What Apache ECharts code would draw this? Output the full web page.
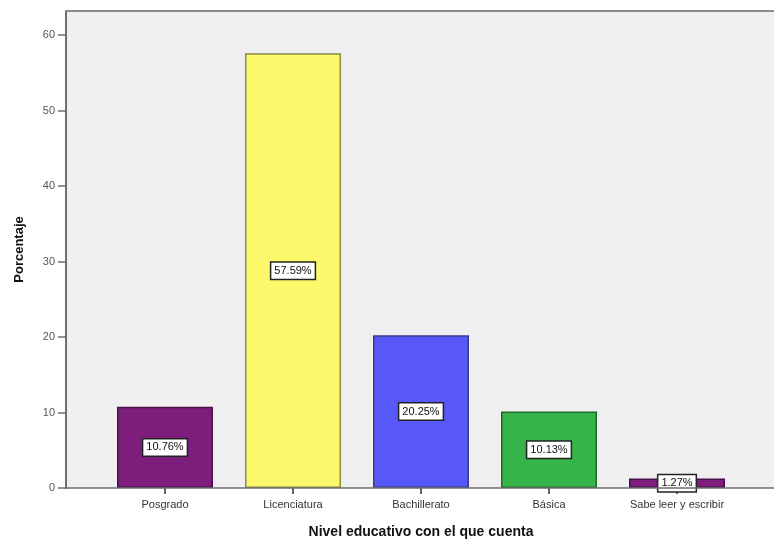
<!DOCTYPE html>
<html>
<head>
<meta charset="utf-8">
<script src="https://cdn.jsdelivr.net/npm/echarts@6/dist/echarts.min.js"></script>
<style>html,body{margin:0;padding:0;background:#fff;overflow:hidden;}#c{width:774px;height:540px;}</style>
</head>
<body>
<div id="c"></div>
<script>
const categories = ['Posgrado', 'Licenciatura', 'Bachillerato', 'Básica', 'Sabe leer y escribir'];
const values = [10.76, 57.59, 20.25, 10.13, 1.27];
const barColors = ['#7d1e7d', '#fbf86c', '#5858f8', '#35b549', '#7d1e7d'];
const barBorders = ['#4a1048', '#8a8a4a', '#3a3a8a', '#1f6a2a', '#4a1048'];
const yTicks = [0, 10, 20, 30, 40, 50, 60];

const chart = echarts.init(document.getElementById('c'), null, {renderer: 'canvas', width: 774, height: 540});
const option = {
  backgroundColor: '#ffffff',
  animation: false,
  graphic: [
    {type: 'rect', z: -10, shape: {x: 66, y: 11, width: 710, height: 477}, style: {fill: '#efefef'}},
    {type: 'line', z: 10, shape: {x1: 65, y1: 11, x2: 774, y2: 11}, style: {stroke: '#8c8c8c', lineWidth: 2}},
    {type: 'line', z: 10, shape: {x1: 66, y1: 488, x2: 774, y2: 488}, style: {stroke: '#6e6e6e', lineWidth: 1.5}}
  ],
  grid: {left: 101, width: 640, top: 11, height: 477, containLabel: false, outerBoundsMode: 'none'},
  xAxis: {
    type: 'category',
    data: categories,
    name: 'Nivel educativo con el que cuenta',
    nameLocation: 'middle',
    nameGap: 37,
    nameTextStyle: {fontFamily: 'Liberation Sans', fontWeight: 'bold', fontSize: 14, color: '#111'},
    axisLine: {show: false},
    axisTick: {show: true, alignWithLabel: true, length: 6, lineStyle: {color: '#333', width: 1.5}},
    axisLabel: {fontFamily: 'Liberation Sans', fontSize: 11, color: '#333', margin: 11},
    splitLine: {show: false}
  },
  yAxis: {
    type: 'value',
    min: 0,
    max: 63.2,
    interval: 10,
    offset: 35,
    name: 'Porcentaje',
    nameLocation: 'middle',
    nameGap: 40,
    nameRotate: 90,
    nameTextStyle: {fontFamily: 'Liberation Sans', fontWeight: 'bold', fontSize: 13, color: '#111'},
    axisLine: {show: true, lineStyle: {color: '#6e6e6e', width: 2}},
    axisTick: {show: true, length: 8, customValues: yTicks, lineStyle: {color: '#6e6e6e', width: 1.5}},
    axisLabel: {fontFamily: 'Liberation Sans', fontSize: 11, color: '#555', margin: 11, customValues: yTicks},
    splitLine: {show: false}
  },
  series: [{
    type: 'bar',
    barCategoryGap: '25%',
    data: values.map(function (v, i) {
      return {value: v, itemStyle: {color: barColors[i], borderColor: barBorders[i], borderWidth: 1.5}};
    }),
    label: {
      show: true,
      position: 'inside',
      formatter: function (p) { return p.value.toFixed(2) + '%'; },
      fontFamily: 'Liberation Sans',
      fontSize: 11,
      color: '#111',
      backgroundColor: '#ffffff',
      borderColor: '#222',
      borderWidth: 1.5,
      padding: [3, 3, 2, 3]
    }
  }]
};
chart.setOption(option);
</script>
</body>
</html>
